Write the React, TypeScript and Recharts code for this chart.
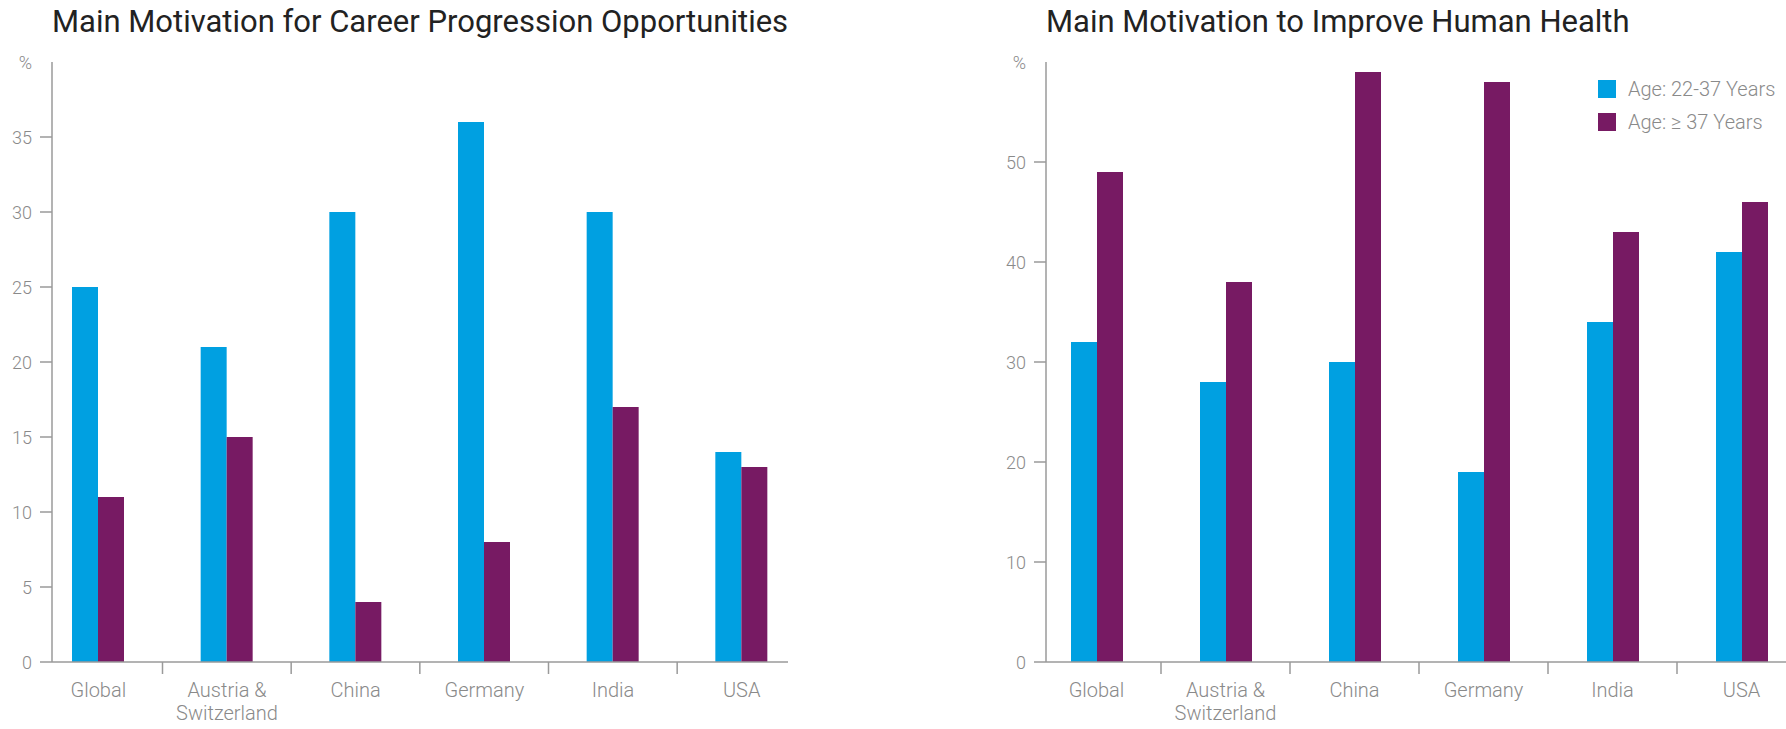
import { BarChart, Bar, XAxis, YAxis, Legend } from "recharts"

const categories = ["Global", "Austria &\nSwitzerland", "China", "Germany", "India", "USA"]
const seriesNames = ["Age: 22-37 Years", "Age: ≥ 37 Years"]

const careerYoung = [25, 21, 30, 36, 30, 14]
const careerOld = [11, 15, 4, 8, 17, 13]
const healthYoung = [32, 28, 30, 19, 34, 41]
const healthOld = [49, 38, 59, 58, 43, 46]

const careerTicks = [0, 5, 10, 15, 20, 25, 30, 35, 40]
const healthTicks = [0, 10, 20, 30, 40, 50, 60]

const BLUE = "#00a0e1"
const PURPLE = "#771a63"
const AXIS = "#9a9a9a"
const LABEL = "#8a8a8a"
const FONT = "Roboto, 'Noto Sans', sans-serif"

const careerData = categories.map((c, i) => ({ name: c, young: careerYoung[i], old: careerOld[i] }))
const healthData = categories.map((c, i) => ({ name: c, young: healthYoung[i], old: healthOld[i] }))

// plot bottom is 662 in both charts (729 - 67 axis height)
const BASE = 662
const BAND = 129

function YTick(props: any) {
  const { y, payload, top } = props
  const isTop = payload.value === top
  return (
    <g>
      {!isTop && <line x1={40} x2={52} y1={y} y2={y} stroke={AXIS} strokeWidth={1.5} />}
      <text x={32} y={y} textAnchor="end" dominantBaseline="central"
        fill={LABEL} fontSize={18} fontFamily={FONT} fontWeight={300}>
        {isTop ? "%" : payload.value}
      </text>
    </g>
  )
}

function XTick(props: any) {
  const { x, payload, index } = props
  const lines = String(payload.value).split("\n")
  const bx = x - BAND / 2
  return (
    <g>
      {index > 0 && <line x1={bx} x2={bx} y1={BASE} y2={BASE + 12} stroke={AXIS} strokeWidth={1.5} />}
      <text x={x} y={BASE + 35} textAnchor="middle" fill={LABEL} fontSize={20} fontFamily={FONT} fontWeight={300}>
        {lines.map((l, i) => (
          <tspan key={i} x={x} dy={i === 0 ? 0 : 23}>{l}</tspan>
        ))}
      </text>
    </g>
  )
}

function LegendBox() {
  const colors = [BLUE, PURPLE]
  return (
    <div>
      {seriesNames.map((n, i) => (
        <div key={n} style={{ display: "flex", alignItems: "center", height: 33 }}>
          <span style={{ width: 18, height: 18, background: colors[i], marginRight: 12, display: "inline-block" }} />
          <span style={{ fontSize: 20, color: LABEL, fontFamily: FONT, fontWeight: 300 }}>{n}</span>
        </div>
      ))}
    </div>
  )
}

const titleStyle: any = {
  position: "absolute",
  top: 3,
  fontSize: 31,
  fontFamily: FONT,
  color: "#222",
  whiteSpace: "nowrap",
}

export default function App() {
  return (
    <div style={{ position: "absolute", left: 0, top: 0, width: 1786, height: 729, background: "#fff", overflow: "hidden" }}>
      <div style={{ ...titleStyle, left: 52 }}>Main Motivation for Career Progression Opportunities</div>
      <div style={{ ...titleStyle, left: 1046 }}>Main Motivation to Improve Human Health</div>

      <div style={{ position: "absolute", left: 0, top: 0 }}>
        <BarChart width={800} height={729} data={careerData} barSize={26} barGap={0}
          margin={{ top: 62, right: 12, bottom: 0, left: 0 }}>
          <XAxis dataKey="name" height={67} interval={0} tickLine={false}
            axisLine={{ stroke: AXIS, strokeWidth: 1.5 }}
            padding={{ left: -18, right: -18 }}
            tick={(p: any) => <XTick {...p} />} />
          <YAxis width={52} domain={[0, 40]} ticks={careerTicks} interval={0} tickLine={false}
            axisLine={{ stroke: AXIS, strokeWidth: 1.5 }}
            tick={(p: any) => <YTick {...p} top={40} />} />
          <Bar dataKey="young" name={seriesNames[0]} fill={BLUE} isAnimationActive={false} />
          <Bar dataKey="old" name={seriesNames[1]} fill={PURPLE} isAnimationActive={false} />
        </BarChart>
      </div>

      <div style={{ position: "absolute", left: 994, top: 0 }}>
        <BarChart width={792} height={729} data={healthData} barSize={26} barGap={0}
          margin={{ top: 62, right: 0, bottom: 0, left: 0 }}>
          <XAxis dataKey="name" height={67} interval={0} tickLine={false}
            axisLine={{ stroke: AXIS, strokeWidth: 1.5 }}
            padding={{ left: -14, right: -20 }}
            tick={(p: any) => <XTick {...p} />} />
          <YAxis width={52} domain={[0, 60]} ticks={healthTicks} interval={0} tickLine={false}
            axisLine={{ stroke: AXIS, strokeWidth: 1.5 }}
            tick={(p: any) => <YTick {...p} top={60} />} />
          <Legend layout="horizontal" align="center" verticalAlign="middle"
            wrapperStyle={{ position: "absolute", left: 604, top: 72, width: "auto" }}
            content={() => <LegendBox />} />
          <Bar dataKey="young" name={seriesNames[0]} fill={BLUE} isAnimationActive={false} />
          <Bar dataKey="old" name={seriesNames[1]} fill={PURPLE} isAnimationActive={false} />
        </BarChart>
      </div>
    </div>
  )
}
